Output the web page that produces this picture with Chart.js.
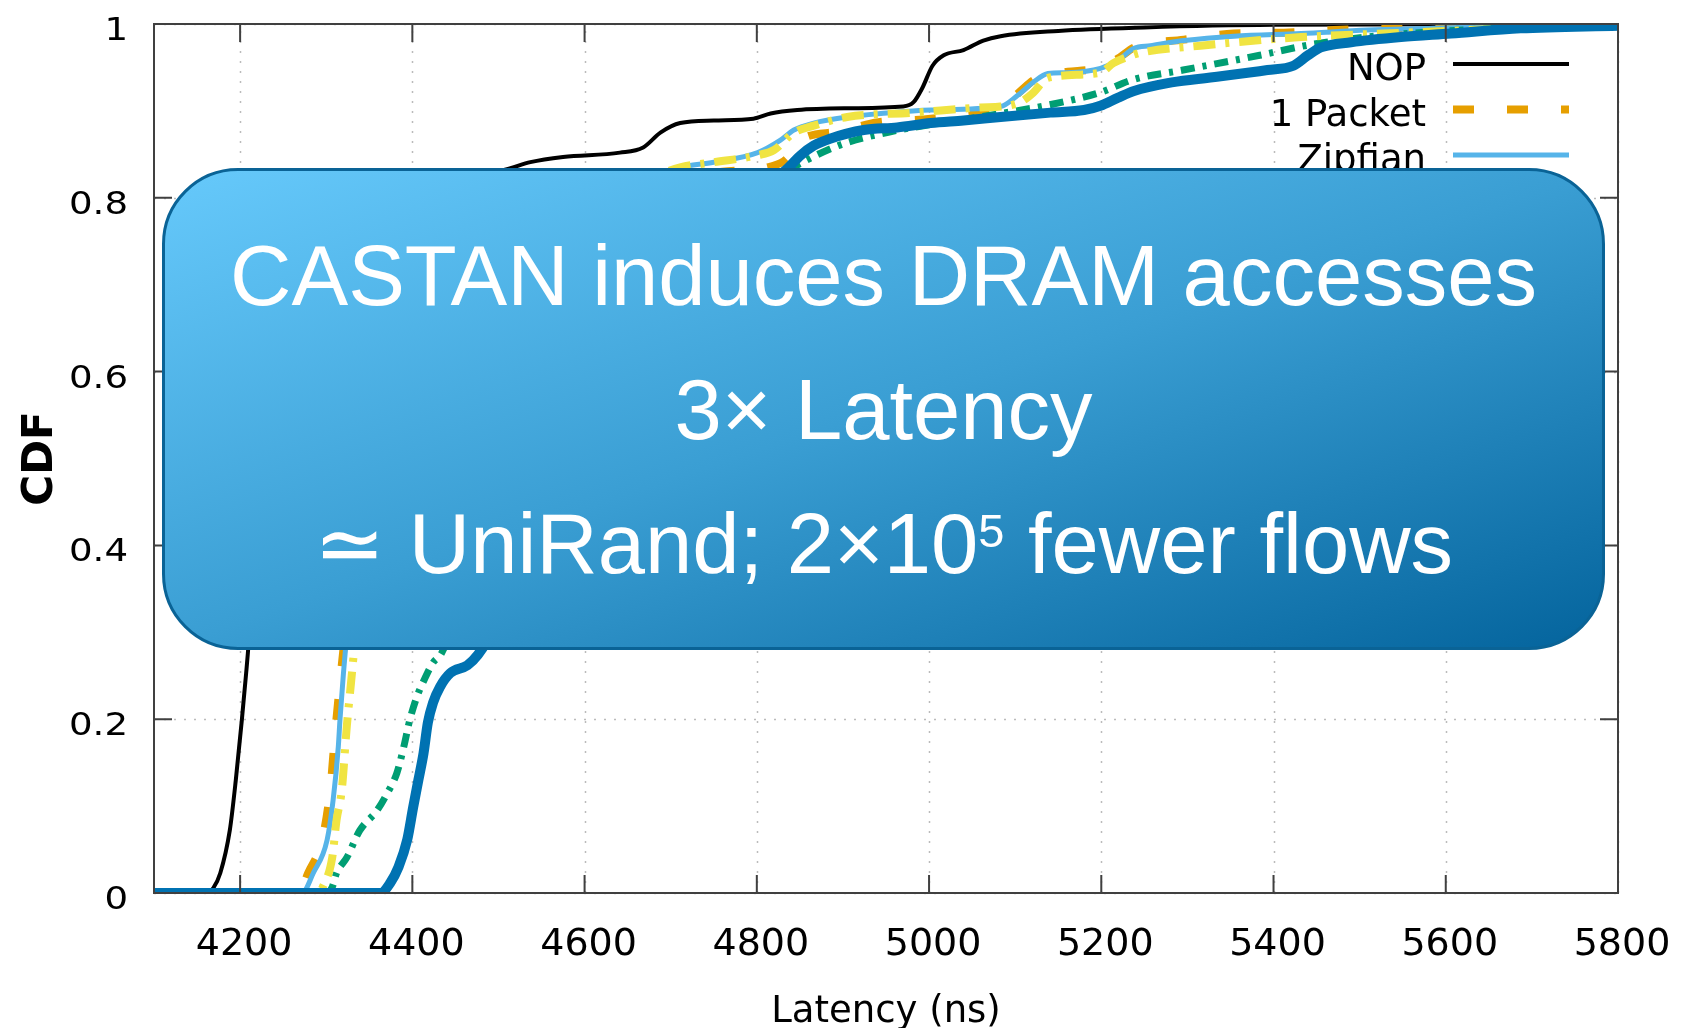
<!DOCTYPE html>
<html>
<head>
<meta charset="utf-8">
<script src="https://cdn.jsdelivr.net/npm/chart.js@4.4.0/dist/chart.umd.min.js"></script>
<style>
  html, body { margin: 0; padding: 0; background: #fff; }
  #wrap { position: relative; width: 1681px; height: 1028px; overflow: hidden; }
  #plot { position: absolute; left: 0; top: 0; }
  .callout {
    position: absolute; left: 162px; top: 168px;
    width: 1437px; height: 476px;
    border: 3px solid #0a6396; border-radius: 76px;
    background: linear-gradient(to bottom right, #66c9fb 0%, #3a9ed3 50%, #04649d 100%);
  }
  .callout .lines { position: absolute; left: 0; right: 0; top: 38px; }
  .callout .line {
    text-align: center; color: #fff; white-space: nowrap;
    font: 85px "Liberation Sans", Arial, "DejaVu Sans", sans-serif; line-height: 134px;
  }
  .callout sup { font-size: 47px; line-height: 0; vertical-align: 26px; }
</style>
</head>
<body>
<div id="wrap">
  <canvas id="plot" width="1681" height="1028"></canvas>
  <div class="callout">
    <div class="lines">
      <div class="line">CASTAN induces DRAM accesses</div>
      <div class="line">3× Latency</div>
      <div class="line">≃ UniRand; 2×10<sup>5</sup> fewer flows</div>
    </div>
  </div>
</div>
<script>
// latency (ns) / CDF pairs per workload
const nopLatency = [4100, 4160, 4169, 4177, 4188, 4195, 4202, 4207, 4209, 4215, 4222, 4230, 4242, 4262, 4300, 4350, 4420, 4480, 4514, 4537, 4575, 4641, 4668, 4688, 4711, 4750, 4796, 4816, 4847, 4905, 4970, 4982, 4992, 5004, 5017, 5040, 5063, 5083, 5150, 5250, 5400, 5800];
const nopCdf = [0, 0, 0.006, 0.023, 0.072, 0.13, 0.199, 0.253, 0.276, 0.36, 0.46, 0.56, 0.64, 0.70, 0.745, 0.775, 0.805, 0.825, 0.834, 0.841, 0.847, 0.852, 0.858, 0.875, 0.886, 0.889, 0.891, 0.897, 0.901, 0.903, 0.905, 0.91, 0.926, 0.952, 0.964, 0.97, 0.981, 0.986, 0.992, 0.996, 0.999, 1];

const onePacketLatency = [4100, 4268, 4279, 4296, 4305, 4310, 4316, 4322, 4330, 4340, 4355, 4385, 4435, 4515, 4600, 4680, 4700, 4760, 4816, 4835, 4848, 4893, 4941, 5002, 5083, 5103, 5121, 5141, 5161, 5199, 5219, 5238, 5296, 5354, 5412, 5470, 5540, 5620, 5800];
const onePacketCdf = [0, 0, 0.023, 0.064, 0.122, 0.18, 0.242, 0.30, 0.38, 0.48, 0.57, 0.64, 0.70, 0.75, 0.79, 0.815, 0.822, 0.83, 0.836, 0.845, 0.865, 0.876, 0.887, 0.891, 0.905, 0.92, 0.935, 0.943, 0.945, 0.95, 0.96, 0.973, 0.982, 0.989, 0.99, 0.993, 0.995, 0.997, 1];

const zipfianLatency = [4100, 4272, 4285, 4301, 4308, 4314, 4316, 4320, 4322, 4328, 4335, 4345, 4360, 4390, 4440, 4520, 4600, 4660, 4711, 4750, 4801, 4827, 4843, 4866, 4905, 4944, 5002, 5083, 5103, 5121, 5138, 5161, 5199, 5219, 5238, 5257, 5296, 5354, 5432, 5509, 5586, 5687, 5800];
const zipfianCdf = [0, 0, 0.023, 0.061, 0.107, 0.168, 0.2, 0.253, 0.276, 0.35, 0.45, 0.55, 0.62, 0.68, 0.73, 0.77, 0.80, 0.82, 0.835, 0.841, 0.852, 0.866, 0.878, 0.886, 0.893, 0.897, 0.901, 0.905, 0.918, 0.933, 0.943, 0.944, 0.949, 0.958, 0.972, 0.975, 0.981, 0.986, 0.989, 0.993, 0.995, 0.998, 1];

const uniRandLatency = [4100, 4300, 4307, 4312, 4324, 4339, 4359, 4371, 4382, 4390, 4397, 4405, 4415, 4424, 4434, 4455, 4490, 4530, 4590, 4660, 4730, 4800, 4855, 4900, 4960, 5000, 5040, 5083, 5140, 5198, 5237, 5295, 5384, 5442, 5508, 5600, 5700, 5800];
const uniRandCdf = [0, 0, 0.007, 0.023, 0.041, 0.072, 0.095, 0.115, 0.138, 0.168, 0.199, 0.225, 0.248, 0.265, 0.276, 0.33, 0.42, 0.52, 0.62, 0.70, 0.76, 0.81, 0.842, 0.862, 0.877, 0.884, 0.89, 0.897, 0.907, 0.921, 0.936, 0.947, 0.964, 0.976, 0.985, 0.992, 0.997, 1];

const uniRandCastanLatency = [4100, 4290, 4296, 4307, 4312, 4318, 4324, 4328, 4332, 4338, 4346, 4358, 4375, 4405, 4455, 4535, 4615, 4670, 4711, 4750, 4801, 4820, 4843, 4866, 4905, 4982, 5060, 5083, 5106, 5121, 5138, 5199, 5214, 5230, 5246, 5315, 5432, 5528, 5626, 5800];
const uniRandCastanCdf = [0, 0, 0.007, 0.041, 0.084, 0.118, 0.193, 0.234, 0.276, 0.35, 0.45, 0.55, 0.62, 0.68, 0.73, 0.77, 0.80, 0.82, 0.835, 0.841, 0.849, 0.855, 0.875, 0.883, 0.893, 0.898, 0.904, 0.905, 0.91, 0.921, 0.938, 0.944, 0.955, 0.962, 0.967, 0.975, 0.985, 0.989, 0.993, 1];

const castanLatency = [4100, 4363, 4374, 4384, 4394, 4401, 4407, 4413, 4418, 4424, 4432, 4444, 4464, 4476, 4487, 4505, 4535, 4575, 4625, 4685, 4745, 4800, 4836, 4851, 4866, 4885, 4924, 4963, 5002, 5040, 5083, 5141, 5180, 5199, 5219, 5238, 5277, 5315, 5393, 5423, 5440, 5455, 5490, 5548, 5606, 5687, 5800];
const castanCdf = [0, 0, 0.011, 0.03, 0.061, 0.099, 0.13, 0.161, 0.196, 0.219, 0.237, 0.253, 0.262, 0.274, 0.291, 0.33, 0.42, 0.52, 0.62, 0.70, 0.76, 0.805, 0.834, 0.849, 0.86, 0.868, 0.878, 0.881, 0.886, 0.889, 0.893, 0.898, 0.901, 0.906, 0.915, 0.923, 0.932, 0.937, 0.947, 0.952, 0.964, 0.973, 0.979, 0.985, 0.989, 0.995, 0.998];

const seriesNames = ['NOP', '1 Packet', 'Zipfian', 'UniRand', 'UniRand CASTAN', 'CASTAN'];
const xTicks = [4200, 4400, 4600, 4800, 5000, 5200, 5400, 5600, 5800];
const yTicks = [0, 0.2, 0.4, 0.6, 0.8, 1];
const yTickLabels = ['0', '0.2', '0.4', '0.6', '0.8', '1'];

const FONT = 'DejaVu Sans';

function points(lat, cdf) {
  return lat.map((v, i) => ({ x: v, y: cdf[i] }));
}

const styles = [
  { color: '#000000', width: 4, dash: [] },
  { color: '#e69f00', width: 8, dash: [21, 33] },
  { color: '#56b4e9', width: 5, dash: [] },
  { color: '#009e73', width: 7, dash: [14, 8, 4, 8] },
  { color: '#f0e442', width: 8, dash: [22, 10, 4, 10] },
  { color: '#0072b2', width: 10, dash: [] }
];

const series = [
  points(nopLatency, nopCdf),
  points(onePacketLatency, onePacketCdf),
  points(zipfianLatency, zipfianCdf),
  points(uniRandLatency, uniRandCdf),
  points(uniRandCastanLatency, uniRandCastanCdf),
  points(castanLatency, castanCdf)
];

// gnuplot-like frame: dotted grid behind; border, inward ticks, tick labels and key in front
const gnuplotFrame = {
  id: 'gnuplotFrame',
  beforeDatasetsDraw(chart) {
    const { ctx, chartArea: a, scales: { x, y } } = chart;
    ctx.save();
    ctx.strokeStyle = '#bbbbbb';
    ctx.lineWidth = 1.5;
    ctx.setLineDash([2, 8]);
    ctx.beginPath();
    xTicks.forEach(v => {
      const px = Math.round(x.getPixelForValue(v)) + 0.5;
      ctx.moveTo(px, a.bottom);
      ctx.lineTo(px, a.top);
    });
    yTicks.forEach(v => {
      const py = Math.round(y.getPixelForValue(v)) + 0.5;
      ctx.moveTo(a.left, py);
      ctx.lineTo(a.right, py);
    });
    ctx.stroke();
    ctx.restore();
  },
  afterDatasetsDraw(chart) {
    const { ctx, chartArea: a, scales: { x, y } } = chart;
    const tick = 18;
    ctx.save();
    ctx.strokeStyle = '#404040';
    ctx.lineWidth = 2;
    ctx.beginPath();
    xTicks.forEach(v => {
      const px = x.getPixelForValue(v);
      ctx.moveTo(px, a.bottom); ctx.lineTo(px, a.bottom - tick);
      ctx.moveTo(px, a.top); ctx.lineTo(px, a.top + tick);
    });
    yTicks.forEach(v => {
      const py = y.getPixelForValue(v);
      ctx.moveTo(a.left, py); ctx.lineTo(a.left + tick, py);
      ctx.moveTo(a.right, py); ctx.lineTo(a.right - tick, py);
    });
    ctx.rect(a.left, a.top, a.right - a.left, a.bottom - a.top);
    ctx.stroke();

    ctx.fillStyle = '#000';
    ctx.textBaseline = 'alphabetic';

    // x tick labels
    ctx.font = '38px "' + FONT + '"';
    ctx.textAlign = 'center';
    xTicks.forEach(v => {
      ctx.fillText(String(v), x.getPixelForValue(v) + 4, a.bottom + 62);
    });

    // y tick labels, set a little wider than the font
    ctx.font = '32px "' + FONT + '"';
    ctx.textAlign = 'right';
    yTicks.forEach((v, i) => {
      ctx.save();
      ctx.translate(a.left - 26, y.getPixelForValue(v) + 16);
      ctx.scale(1.16, 1);
      ctx.fillText(yTickLabels[i], 0, 0);
      ctx.restore();
    });

    // key, top right inside the plot
    ctx.font = '37px "' + FONT + '"';
    ctx.textAlign = 'right';
    chart.data.datasets.forEach((ds, i) => {
      const rowY = 64 + i * 45.5;
      ctx.fillText(ds.label, 1426, rowY + 16);
      ctx.strokeStyle = ds.borderColor;
      ctx.lineWidth = ds.borderWidth;
      ctx.setLineDash(ds.borderDash);
      ctx.beginPath();
      ctx.moveTo(1453, rowY);
      ctx.lineTo(1569, rowY);
      ctx.stroke();
    });
    ctx.restore();
  }
};

new Chart(document.getElementById('plot').getContext('2d'), {
  type: 'line',
  data: {
    datasets: series.map((data, i) => ({
      label: seriesNames[i],
      data: data,
      borderColor: styles[i].color,
      borderWidth: styles[i].width,
      borderDash: styles[i].dash,
      pointRadius: 0,
      fill: false,
      cubicInterpolationMode: 'monotone',
      order: series.length - i
    }))
  },
  options: {
    responsive: false,
    animation: false,
    layout: { padding: { top: 24, right: 63, bottom: 0, left: 0 } },
    plugins: { legend: { display: false }, tooltip: { enabled: false } },
    scales: {
      x: {
        type: 'linear',
        min: 4100,
        max: 5800,
        afterBuildTicks: s => { s.ticks = xTicks.map(v => ({ value: v })); },
        afterFit: s => { s.height = 135; },
        grid: { display: false, drawTicks: false },
        border: { display: false },
        ticks: { display: false },
        title: {
          display: true,
          text: 'Latency (ns)',
          color: '#000',
          padding: 0,
          font: { family: FONT, size: 37, lineHeight: 0.85 }
        }
      },
      y: {
        type: 'linear',
        min: 0,
        max: 1,
        afterBuildTicks: s => { s.ticks = yTicks.map(v => ({ value: v })); },
        afterFit: s => { s.width = 154; },
        grid: { display: false, drawTicks: false },
        border: { display: false },
        ticks: { display: false },
        title: {
          display: true,
          text: 'CDF',
          color: '#000',
          padding: { top: 20, bottom: 0 },
          font: { family: FONT, size: 42, weight: 'bold', lineHeight: 1 }
        }
      }
    }
  },
  plugins: [gnuplotFrame]
});
</script>
</body>
</html>
